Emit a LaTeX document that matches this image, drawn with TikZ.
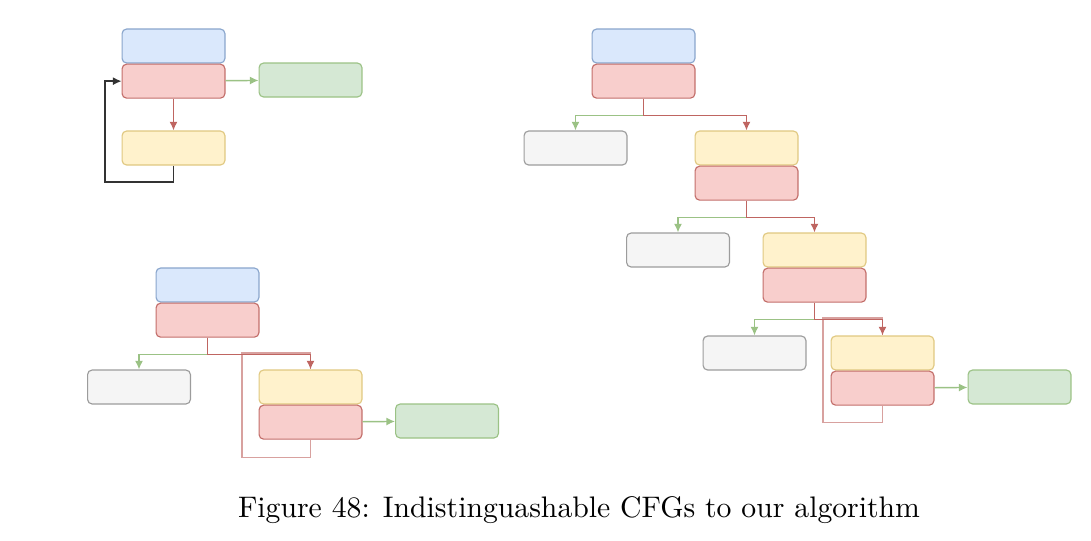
\documentclass[tikz,border=0pt]{standalone}
\usepackage{xcolor}
\usepackage{tikz}
\usetikzlibrary{arrows.meta,positioning}

\definecolor{blueFill}{HTML}{DAE8FC}\definecolor{blueDraw}{HTML}{6C8EBF}
\definecolor{redFill}{HTML}{F8CECC}\definecolor{redDraw}{HTML}{B85450}
\definecolor{greenFill}{HTML}{D5E8D4}\definecolor{greenDraw}{HTML}{82B366}
\definecolor{yellowFill}{HTML}{FFF2CC}\definecolor{yellowDraw}{HTML}{D6B656}
\definecolor{grayFill}{HTML}{F5F5F5}\definecolor{grayDraw}{HTML}{666666}

\begin{document}
\begin{tikzpicture}[
			x=0.35pt, y=-0.35pt,
			block/.style={rectangle, draw, rounded corners=1.6pt, minimum width=36pt, minimum height=11.9pt, inner sep=0pt, line width=0.4pt},
			bluebox/.style={block, fill=blueFill, draw=blueDraw!80},
			redbox/.style={block, fill=redFill, draw=redDraw!85},
			greenbox/.style={block, fill=greenFill, draw=greenDraw!80},
			yellowbox/.style={block, fill=yellowFill, draw=yellowDraw!75},
			graybox/.style={block, fill=grayFill, draw=grayDraw!65},
			line/.style={draw, line width=0.5pt, -{Latex[length=3pt,width=2.8pt]}},
			redline/.style={line, draw=redDraw!90},
			greenline/.style={line, draw=greenDraw!80},
			loopline/.style={draw=redDraw!55, line width=0.5pt},
			backline/.style={line, draw=black!80}
			]
			\useasboundingbox (0,0) rectangle (1091,540);
			% first CFG
			\node [bluebox] (b1) at (173.5,46) {};
			\node [redbox, below=0pt of b1] (r1) {};
			\node [greenbox] (g1) at (310.5,80) {};
			\node [yellowbox] (y1) at (173.5,148) {};
			% second CFG
			\node [bluebox] (b2) at (643.5,46) {};
			\node [redbox, below=0pt of b2] (r2) {};
			\node [graybox] (e2) at (575.5,148) {};
			\node [yellowbox] (y2) at (746.5,148) {};
			\node [redbox, below=0pt of y2] (r3) {};
			\node [graybox] (e3) at (678,250) {};
			\node [yellowbox] (y3) at (814.5,250) {};
			\node [redbox, below=0pt of y3] (r4) {};
			\node [graybox] (e4) at (754.5,353) {};
			\node [yellowbox] (y4) at (882.5,353) {};
			\node [redbox, below=0pt of y4] (r5) {};
			\node [greenbox] (g5) at (1019.5,387) {};
			% third CFG
			\node [bluebox] (b6) at (207.5,285) {};
			\node [redbox, below=0pt of b6] (r6) {};
			\node [graybox] (e6) at (139,387) {};
			\node [yellowbox] (y6) at (310.5,387) {};
			\node [redbox, below=0pt of y6] (r7) {};
			\node [greenbox] (g7) at (447,421) {};
			\coordinate (loopA) at (105,182);
			\coordinate (loopB) at (823,318);
			\coordinate (loopC) at (242,353);

			% edges
			\path [redline] (r1) -- (y1);
			\path [greenline] (r1) -- (g1);
			\path [backline] (y1.south) |- (loopA) |- (r1.west);

			\path [greenline] (r2.south) -- ++(0,17) -| (e2.north);
			\path [redline] (r2.south) -- ++(0,17) -| (y2.north);
			\path [greenline] (r3.south) -- ++(0,17) -| (e3.north);
			\path [redline] (r3.south) -- ++(0,17) -| (y3.north);
			\path [greenline] (r4.south) -- ++(0,17) -| (e4.north);
			\path [loopline] (r5.south) -- ++(0,17) -| (loopB) -| (y4.north);
			\path [redline] (r4.south) -- ++(0,17) -| (y4.north);
			\path [greenline] (r5) -- (g5);

			\path [greenline] (r6.south) -- ++(0,17) -| (e6.north);
			\path [loopline] (r7.south) -- ++(0,18) -| (loopC) -| (y6.north);
			\path [redline] (r6.south) -- ++(0,17) -| (y6.north);
			\path [greenline] (r7) -- (g7);

			\node [font=\fontsize{10.4}{12.5}\selectfont] (caption) at (579,510) {Figure 48: Indistinguashable CFGs to our algorithm};
		\end{tikzpicture}
\end{document}
